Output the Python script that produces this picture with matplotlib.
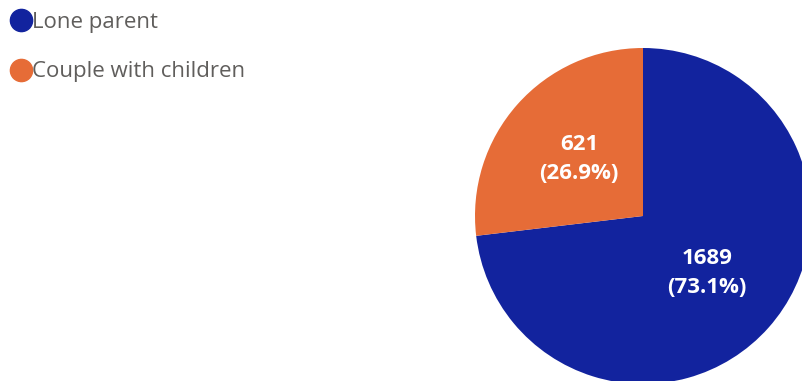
import matplotlib
matplotlib.use("Agg")
import matplotlib.pyplot as plt
from matplotlib.lines import Line2D

categories = ["Lone parent", "Couple with children"]
values = [1689, 621]
colors = ["#12239E", "#E66C37"]

plt.rcParams['font.family'] = ['Open Sans', 'DejaVu Sans']

fig = plt.figure(figsize=(8.02, 3.81), dpi=100)
ax = fig.add_axes([0, 0, 1, 1])

total = sum(values)


def fmt(pct):
    v = int(round(pct * total / 100.0))
    return "%d\n(%.1f%%)" % (v, pct)


wedges, texts, autotexts = ax.pie(
    values, colors=colors, startangle=90, counterclock=False,
    center=(643, 165), radius=168, autopct=fmt, pctdistance=0.51,
    wedgeprops=dict(linewidth=0), frame=True,
    textprops=dict(color="white", fontsize=16, fontweight="bold",
                   linespacing=1.5))
ax.set_xlim(0, 802)
ax.set_ylim(0, 381)
ax.set_aspect('equal')
ax.axis('off')

handles = [Line2D([], [], marker='o', linestyle='none', markersize=16,
                  markerfacecolor=c, markeredgecolor=c) for c in colors]
leg = ax.legend(handles, categories, loc='upper left',
                bbox_to_anchor=(0.003, 0.993), frameon=False,
                fontsize=16, labelcolor="#605E5C", handlelength=0.85,
                handletextpad=0.1, labelspacing=1.3, borderaxespad=0)

fig.savefig("out.png", dpi=100)
